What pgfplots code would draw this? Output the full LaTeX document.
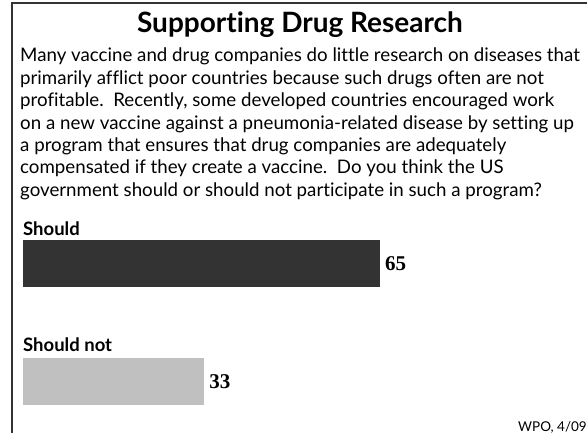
\documentclass[border=0pt]{standalone}
\usepackage{pgfplots}
\pgfplotsset{compat=1.18}
\usepackage{fontspec}
\setmainfont{Lato}[Ligatures=NoCommon]
\newfontfamily\valfont{Liberation Serif}
\definecolor{darkbar}{HTML}{333333}
\definecolor{lightbar}{HTML}{C0C0C0}
\definecolor{frame}{HTML}{333333}
\begin{document}
\begin{tikzpicture}
\useasboundingbox (0pt,0pt) rectangle (587pt,-433pt);
\draw[line width=1.6pt, color=frame] (12pt,-434pt) -- (12pt,-3.3pt) -- (588pt,-3.3pt);
\node[anchor=base, inner sep=0pt, font=\fontsize{28}{32}\selectfont\bfseries] at (300pt,-33pt) {Supporting Drug Research};
\begin{scope}[every node/.style={anchor=base west, inner sep=0pt, font=\fontsize{18.7}{22}\selectfont}]
\node at (20pt,-62pt) {Many vaccine and drug companies do little research on diseases that};
\node at (20pt,-84.4pt) {primarily afflict poor countries because such drugs often are not};
\node at (20pt,-106.8pt) {profitable.\ \ Recently, some developed countries encouraged work};
\node at (20pt,-129.2pt) {on a new vaccine against a pneumonia-related disease by setting up};
\node at (20pt,-151.6pt) {a program that ensures that drug companies are adequately};
\node at (20pt,-174pt) {compensated if they create a vaccine.\ \ Do you think the US};
\node at (20pt,-196.4pt) {government should or should not participate in such a program?};
\end{scope}
\begin{axis}[
  at={(23pt,-440.5pt)}, anchor=south west,
  scale only axis, width=549pt, height=236pt,
  xmin=0, xmax=100, ymin=-0.5, ymax=1.5,
  hide axis, clip=false,
  xbar, bar width=47pt,
  /pgf/number format/assume math mode=true,
  nodes near coords,
  nodes near coords style={font=\valfont\fontsize{21}{24}\selectfont\bfseries, anchor=west, inner sep=0pt, xshift=5pt, text=black},
]
\addplot[fill=darkbar, draw=none, bar shift=0pt] coordinates {(65,1)};
\addplot[fill=lightbar, draw=none, bar shift=0pt] coordinates {(33,0)};
\end{axis}
\node[anchor=base west, inner sep=0pt, font=\fontsize{18.5}{22}\selectfont\bfseries] at (23pt,-236pt) {Should};
\node[anchor=base west, inner sep=0pt, font=\fontsize{18.5}{22}\selectfont\bfseries] at (23pt,-351pt) {Should not};
\node[anchor=base east, inner sep=0pt, font=\fontsize{13.5}{16}\selectfont] at (587pt,-431pt) {WPO, 4/09};
\end{tikzpicture}
\end{document}
